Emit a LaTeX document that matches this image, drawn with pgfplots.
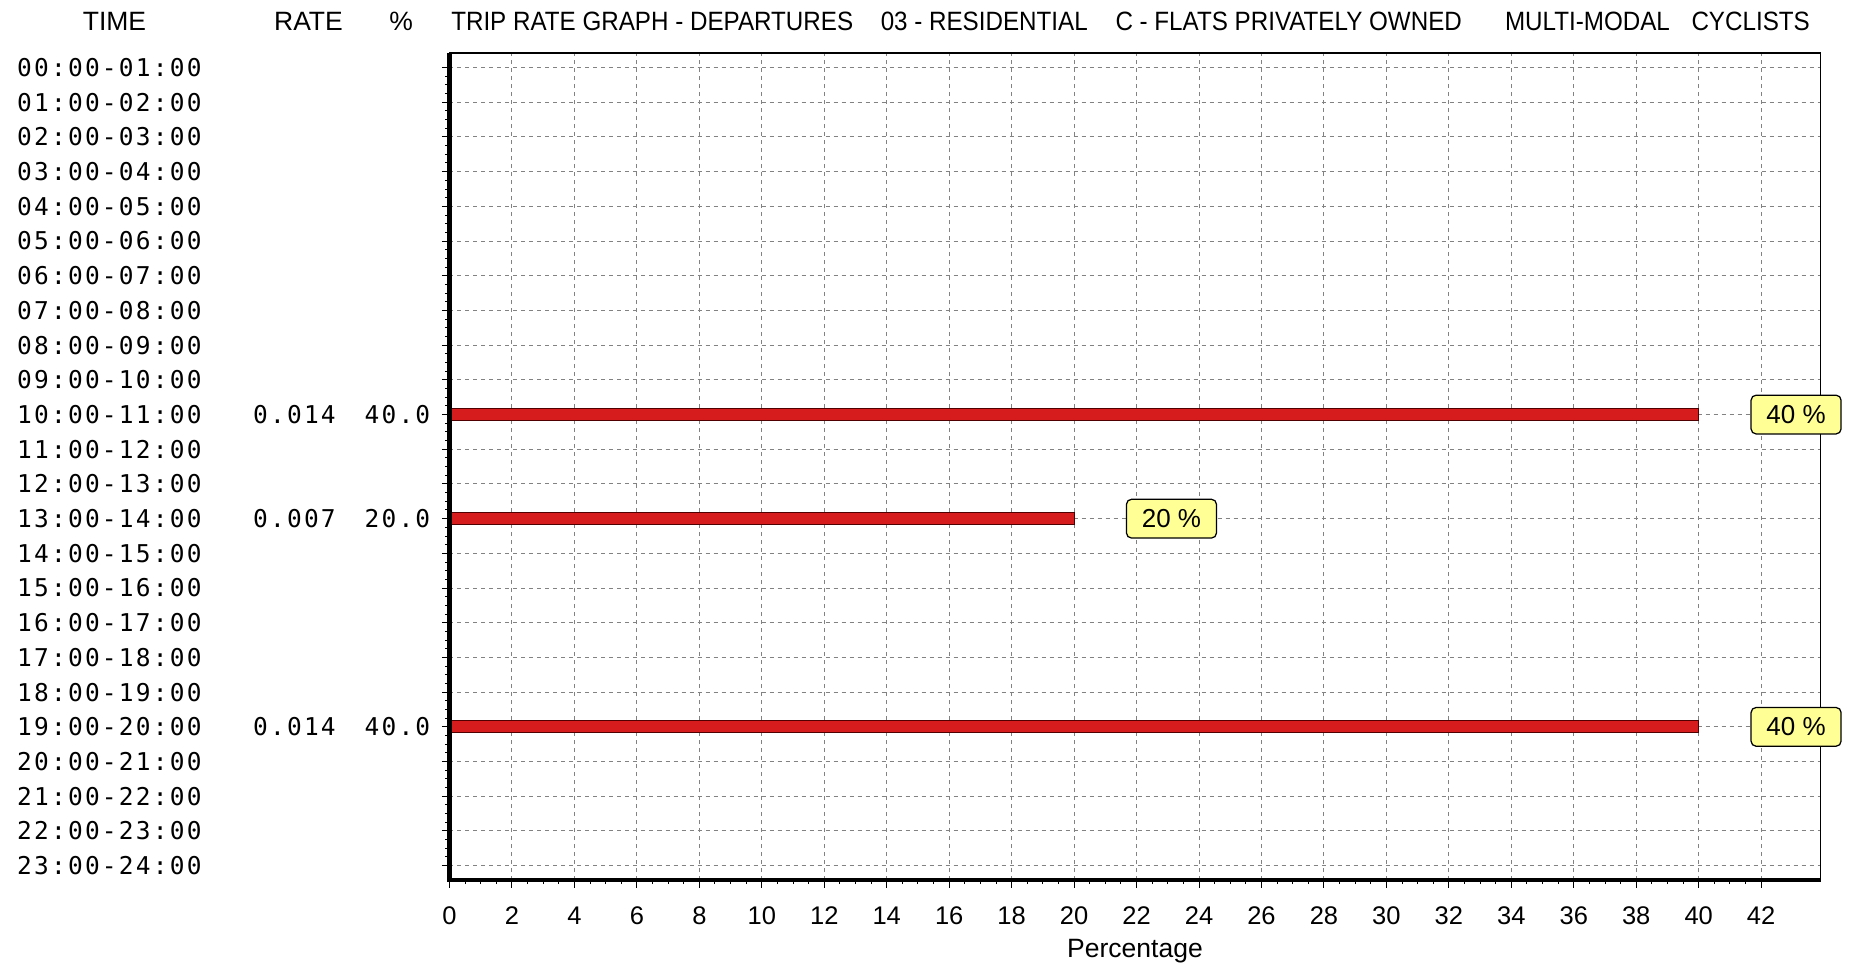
\documentclass[border=0pt]{standalone}
\usepackage{pgfplots}
\pgfplotsset{compat=1.18}
\usepackage{fontspec}
\setmainfont{Liberation Sans}
\newfontfamily\mono[LetterSpace=9]{DejaVu Sans Mono}
\definecolor{barred}{RGB}{214,28,28}
\definecolor{baredge}{RGB}{80,0,0}
\definecolor{callout}{RGB}{255,255,150}
\definecolor{gridgray}{RGB}{130,130,130}
% one row label: time, rate, percent
\newcommand\row[3]{{\mono\fontsize{9.8pt}{10pt}\selectfont\makebox[87.4pt][l]{#1}\makebox[40pt][r]{#2}\makebox[37.8pt][r]{#3}}}
% title pieces, same narrowed font
\newcommand\seg[2]{\node[anchor=base west,inner sep=0pt] at (#1,375.4pt) {\scalebox{0.913}[1]{\fontsize{10.6pt}{12pt}\selectfont #2}};}

\begin{document}
\begin{tikzpicture}
\useasboundingbox (0,0) rectangle (740pt,387.6pt);
\begin{axis}[
  at={(179.8pt,35.5pt)}, anchor=south west,
  scale only axis, width=548.4pt, height=330.9pt,
  xbar, bar width=4.8pt,
  xmin=0, xmax=43.9, ymin=-0.42, ymax=23.42,
  xtick={0,2,...,42}, minor x tick num=3,
  ytick={0,...,23}, minor y tick num=3,
  yticklabels={
    \row{23:00-24:00}{}{},
    \row{22:00-23:00}{}{},
    \row{21:00-22:00}{}{},
    \row{20:00-21:00}{}{},
    \row{19:00-20:00}{0.014}{40.0},
    \row{18:00-19:00}{}{},
    \row{17:00-18:00}{}{},
    \row{16:00-17:00}{}{},
    \row{15:00-16:00}{}{},
    \row{14:00-15:00}{}{},
    \row{13:00-14:00}{0.007}{20.0},
    \row{12:00-13:00}{}{},
    \row{11:00-12:00}{}{},
    \row{10:00-11:00}{0.014}{40.0},
    \row{09:00-10:00}{}{},
    \row{08:00-09:00}{}{},
    \row{07:00-08:00}{}{},
    \row{06:00-07:00}{}{},
    \row{05:00-06:00}{}{},
    \row{04:00-05:00}{}{},
    \row{03:00-04:00}{}{},
    \row{02:00-03:00}{}{},
    \row{01:00-02:00}{}{},
    \row{00:00-01:00}{}{}},
  tick align=outside,
  major tick length=3pt, minor tick length=1.6pt,
  tick style={black, line width=0.4pt},
  xtick pos=bottom, ytick pos=left,
  grid=major,
  major grid style={gridgray, dash pattern=on 1.6pt off 1.6pt, line width=0.4pt},
  axis line style={line width=0.6pt},
  /pgf/number format/assume math mode=true,
  xticklabel style={font=\fontsize{10.2pt}{12pt}\selectfont, inner sep=0pt, yshift=-7.5pt},
  yticklabel style={anchor=east, inner sep=0pt, xshift=-4.5pt},
  xlabel={Percentage},
  xlabel style={font=\fontsize{10.6pt}{12pt}\selectfont, at={(axis description cs:0.5,0)}, anchor=center, yshift=-28.3pt},
  clip=false,
  point meta=x,
  nodes near coords={\pgfmathprintnumber{\pgfplotspointmeta}~\%},
  nodes near coords style={anchor=west, xshift=20.7pt, fill=callout, draw=black, line width=0.5pt,
    rounded corners=2pt, minimum width=36pt, minimum height=15.5pt, inner sep=1pt,
    font=\fontsize{10.4pt}{12pt}\selectfont},
]
\addplot[fill=barred, draw=baredge, line width=0.4pt] coordinates {(40,13) (20,10) (40,4)};
\draw[line width=1.7pt, black] (axis description cs:0,1) -- (axis description cs:0,0) -- (axis description cs:1,0);
\end{axis}
\node[anchor=base,inner sep=0pt] at (45.8pt,375.4pt) {\fontsize{10.6pt}{12pt}\selectfont TIME};
\node[anchor=base,inner sep=0pt] at (123.4pt,375.4pt) {\fontsize{10.6pt}{12pt}\selectfont RATE};
\node[anchor=base,inner sep=0pt] at (160.5pt,375.4pt) {\fontsize{10.6pt}{12pt}\selectfont \%};
\seg{180.3pt}{TRIP RATE GRAPH - DEPARTURES}
\seg{352.1pt}{03 - RESIDENTIAL}
\seg{446.0pt}{C - FLATS PRIVATELY OWNED}
\seg{601.8pt}{MULTI-MODAL}
\seg{676.4pt}{CYCLISTS}
\end{tikzpicture}
\end{document}
